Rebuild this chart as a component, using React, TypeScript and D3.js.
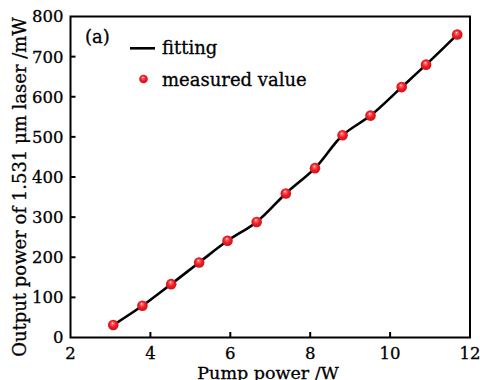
import React from "react";
import * as d3 from "d3";

const pumpPower = [3.07, 3.8, 4.52, 5.22, 5.93, 6.66, 7.39, 8.12, 8.81, 9.51, 10.29, 10.9, 11.68];
const outputPower = [31, 79, 133, 187, 241, 288, 359, 422, 504, 553, 624, 680, 755];
const xTicks = [2, 4, 6, 8, 10, 12];
const yTicks = [0, 100, 200, 300, 400, 500, 600, 700, 800];
const legendLabels = ["fitting", "measured value"];
const panelLabel = "(a)";
const xTitle = "Pump power /W";
const yTitle = "Output power of 1.531 μm laser /mW";

const W = 480, H = 380;
const M = { left: 70.5, right: 10, top: 16.5, bottom: 42.5 };
const font = "'DejaVu Serif', serif";
const heavy = { stroke: "#000", strokeWidth: 0.3 };

export default function App() {
  const x = d3.scaleLinear().domain([2, 12]).range([M.left, W - M.right]);
  const y = d3.scaleLinear().domain([0, 800]).range([H - M.bottom, M.top]);
  const pts = pumpPower.map((p, i) => [p, outputPower[i]] as [number, number]);
  const line = d3.line<[number, number]>().x(d => x(d[0])).y(d => y(d[1])).curve(d3.curveCatmullRom.alpha(0.5));
  const x0 = x(2), x1 = x(12), y0 = y(0), y1 = y(800);
  const Marker = ({ cx, cy, r = 5.3 }: { cx: number; cy: number; r?: number }) => (
    <circle cx={cx} cy={cy} r={r} fill="url(#ball)" />
  );
  return (
    <svg width={W} height={H} style={{ position: "absolute", left: 0, top: 0, background: "#fff" }} fontFamily={font}>
      <defs>
        <radialGradient id="ball" cx="0.5" cy="0.5" r="0.55" fx="0.42" fy="0.3">
          <stop offset="0" stopColor="#ffffff" />
          <stop offset="0.18" stopColor="#ff6a6a" />
          <stop offset="0.55" stopColor="#ee1c24" />
          <stop offset="1" stopColor="#c8101a" />
        </radialGradient>
      </defs>
      <rect x={0} y={0} width={W} height={H} fill="#fff" />
      <path d={line(pts) || ""} fill="none" stroke="#000" strokeWidth={2.6} />
      {pts.map((d, i) => <Marker key={i} cx={x(d[0])} cy={y(d[1])} />)}
      <rect x={x0} y={y1} width={x1 - x0} height={y0 - y1} fill="none" stroke="#000" strokeWidth={2} />
      {xTicks.map(t => (
        <g key={"x" + t}>
          {t > 2 && t < 12 && <line x1={x(t)} x2={x(t)} y1={y0} y2={y0 - 5.5} stroke="#000" strokeWidth={2} />}
          <text x={x(t)} y={358.5} textAnchor="middle" fontSize={16.5} {...heavy}>{t}</text>
        </g>
      ))}
      {yTicks.map(t => (
        <g key={"y" + t}>
          {t > 0 && t < 800 && <line x1={x0} x2={x0 + 5} y1={y(t)} y2={y(t)} stroke="#000" strokeWidth={2} />}
          <text x={63.5} y={y(t)} dy="0.36em" textAnchor="end" fontSize={16.5} {...heavy}>{t}</text>
        </g>
      ))}
      <text x={268} y={379} textAnchor="middle" fontSize={17.5} {...heavy}>{xTitle}</text>
      <text transform={`translate(26,187) rotate(-90)`} textAnchor="middle" fontSize={18} {...heavy}>{yTitle}</text>
      <text x={85} y={43} fontSize={18} {...heavy}>{panelLabel}</text>
      <line x1={130} x2={155} y1={48.3} y2={48.3} stroke="#000" strokeWidth={2.6} />
      <text x={162} y={53.5} fontSize={18} {...heavy}>{legendLabels[0]}</text>
      <Marker cx={143.5} cy={79} r={4.3} />
      <text x={162} y={86} fontSize={18} {...heavy}>{legendLabels[1]}</text>
    </svg>
  );
}
